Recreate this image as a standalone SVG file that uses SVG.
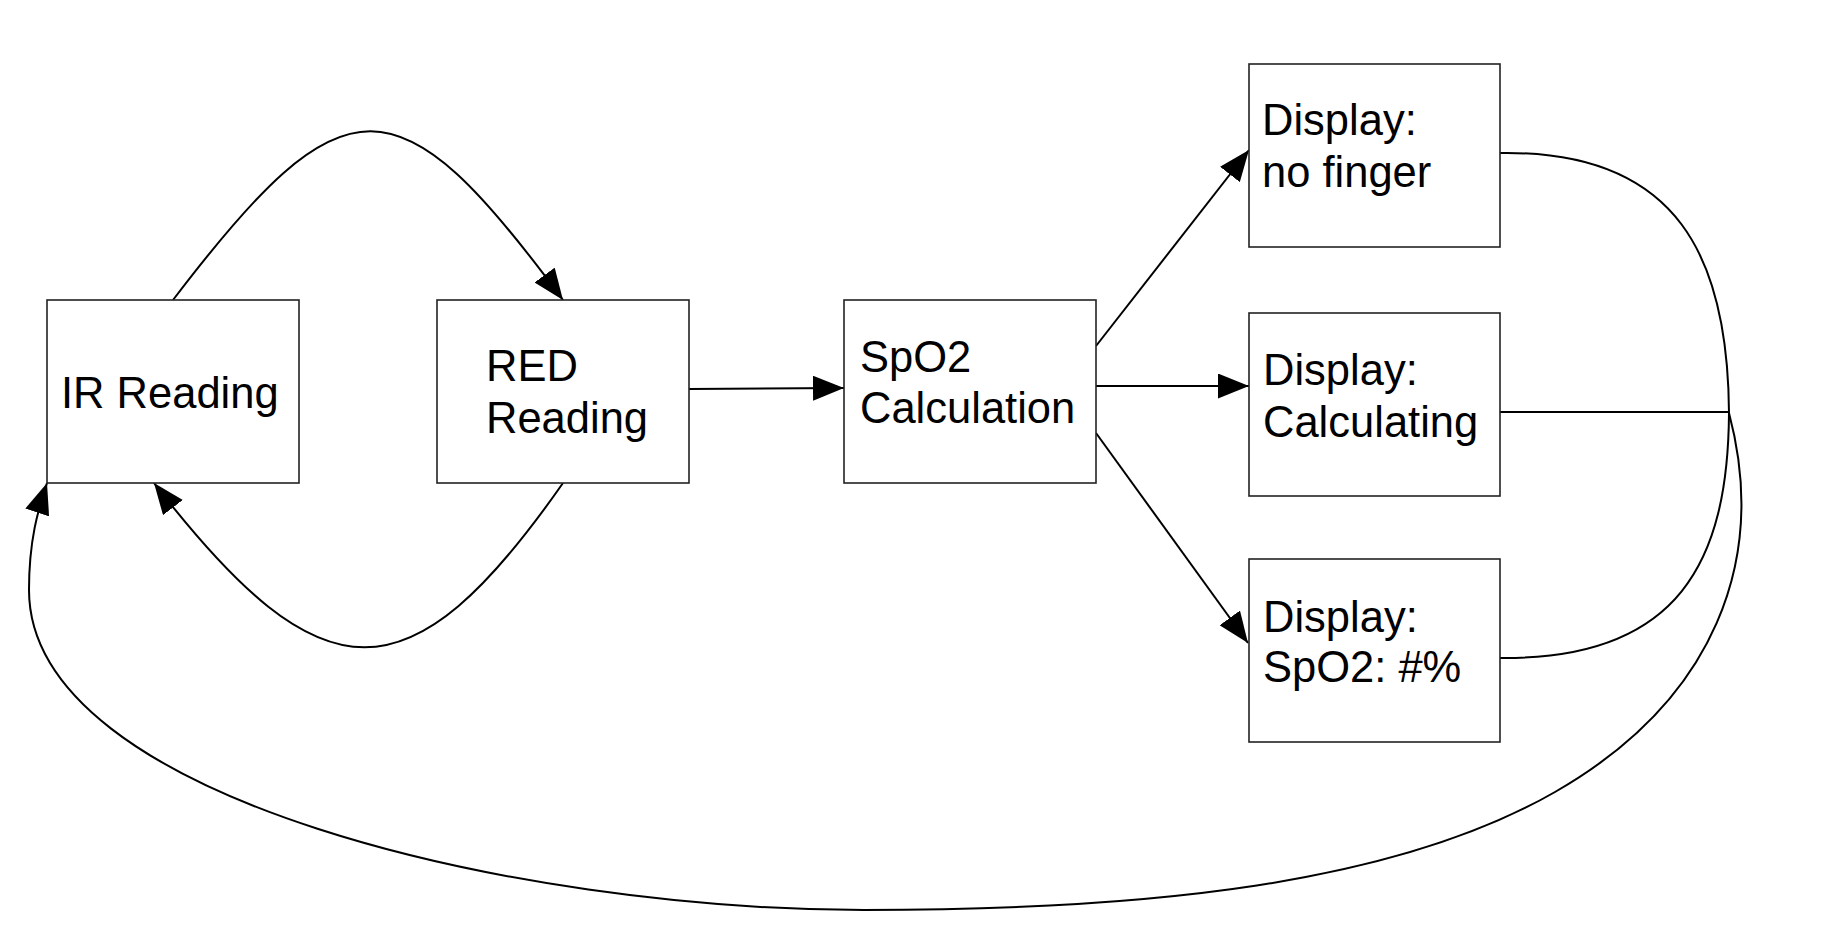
<svg xmlns="http://www.w3.org/2000/svg" width="1821" height="937" viewBox="0 0 1821 937">
<style>
  .box { fill: #ffffff; stroke: #222222; stroke-width: 1.6; }
  .lbl { font-family: "Liberation Sans", Arial, Helvetica, sans-serif; font-size: 43.5px; fill: #000000; }
  .edge { fill: none; stroke: #000000; stroke-width: 2; }
</style>
<defs>
  <marker id="arr" markerUnits="userSpaceOnUse" markerWidth="31" markerHeight="25" refX="31" refY="12.5" orient="auto">
    <path d="M0,0 L31,12.5 L0,25 Z" fill="#000000"/>
  </marker>
</defs>
<rect x="0" y="0" width="1821" height="937" fill="#ffffff"/>
<g id="connectors">
  <path class="edge" d="M173,300 C345,74 398,76 563,300" marker-end="url(#arr)"/>
  <path class="edge" d="M563,483 C410,702 323,702 154,483" marker-end="url(#arr)"/>
  <path class="edge" d="M689,389 L844,388" marker-end="url(#arr)"/>
  <path class="edge" d="M1096,346 L1249,150" marker-end="url(#arr)"/>
  <path class="edge" d="M1096,386 L1249,386" marker-end="url(#arr)"/>
  <path class="edge" d="M1096,433 L1248,643" marker-end="url(#arr)"/>
  <path class="edge" d="M1500,153 C1680,150 1728,260 1729,413"/>
  <path class="edge" d="M1500,658 C1680,660 1728,560 1729,413"/>
  <path class="edge" d="M1500,412 L1729,412"/>
  <path class="edge" d="M1729,413 C1768,560 1715,700 1555,792 C1395,884 1150,910 864,910 C520,910 29,800 29,590 C29,540 38,510 47,483" marker-end="url(#arr)"/>
</g>
<g id="ir-reading">
  <rect class="box" x="47" y="300" width="252" height="183"/>
  <text class="lbl" x="61" y="408">IR Reading</text>
</g>
<g id="red-reading">
  <rect class="box" x="437" y="300" width="252" height="183"/>
  <text class="lbl" x="486" y="381">RED</text>
  <text class="lbl" x="486" y="433">Reading</text>
</g>
<g id="spo2-calculation">
  <rect class="box" x="844" y="300" width="252" height="183"/>
  <text class="lbl" x="860" y="372">SpO2</text>
  <text class="lbl" x="860" y="423">Calculation</text>
</g>
<g id="display-no-finger">
  <rect class="box" x="1249" y="64" width="251" height="183"/>
  <text class="lbl" x="1262" y="135">Display:</text>
  <text class="lbl" x="1262" y="187">no finger</text>
</g>
<g id="display-calculating">
  <rect class="box" x="1249" y="313" width="251" height="183"/>
  <text class="lbl" x="1263" y="385">Display:</text>
  <text class="lbl" x="1263" y="437">Calculating</text>
</g>
<g id="display-spo2">
  <rect class="box" x="1249" y="559" width="251" height="183"/>
  <text class="lbl" x="1263" y="632">Display:</text>
  <text class="lbl" x="1263" y="682">SpO2: #%</text>
</g>
</svg>
